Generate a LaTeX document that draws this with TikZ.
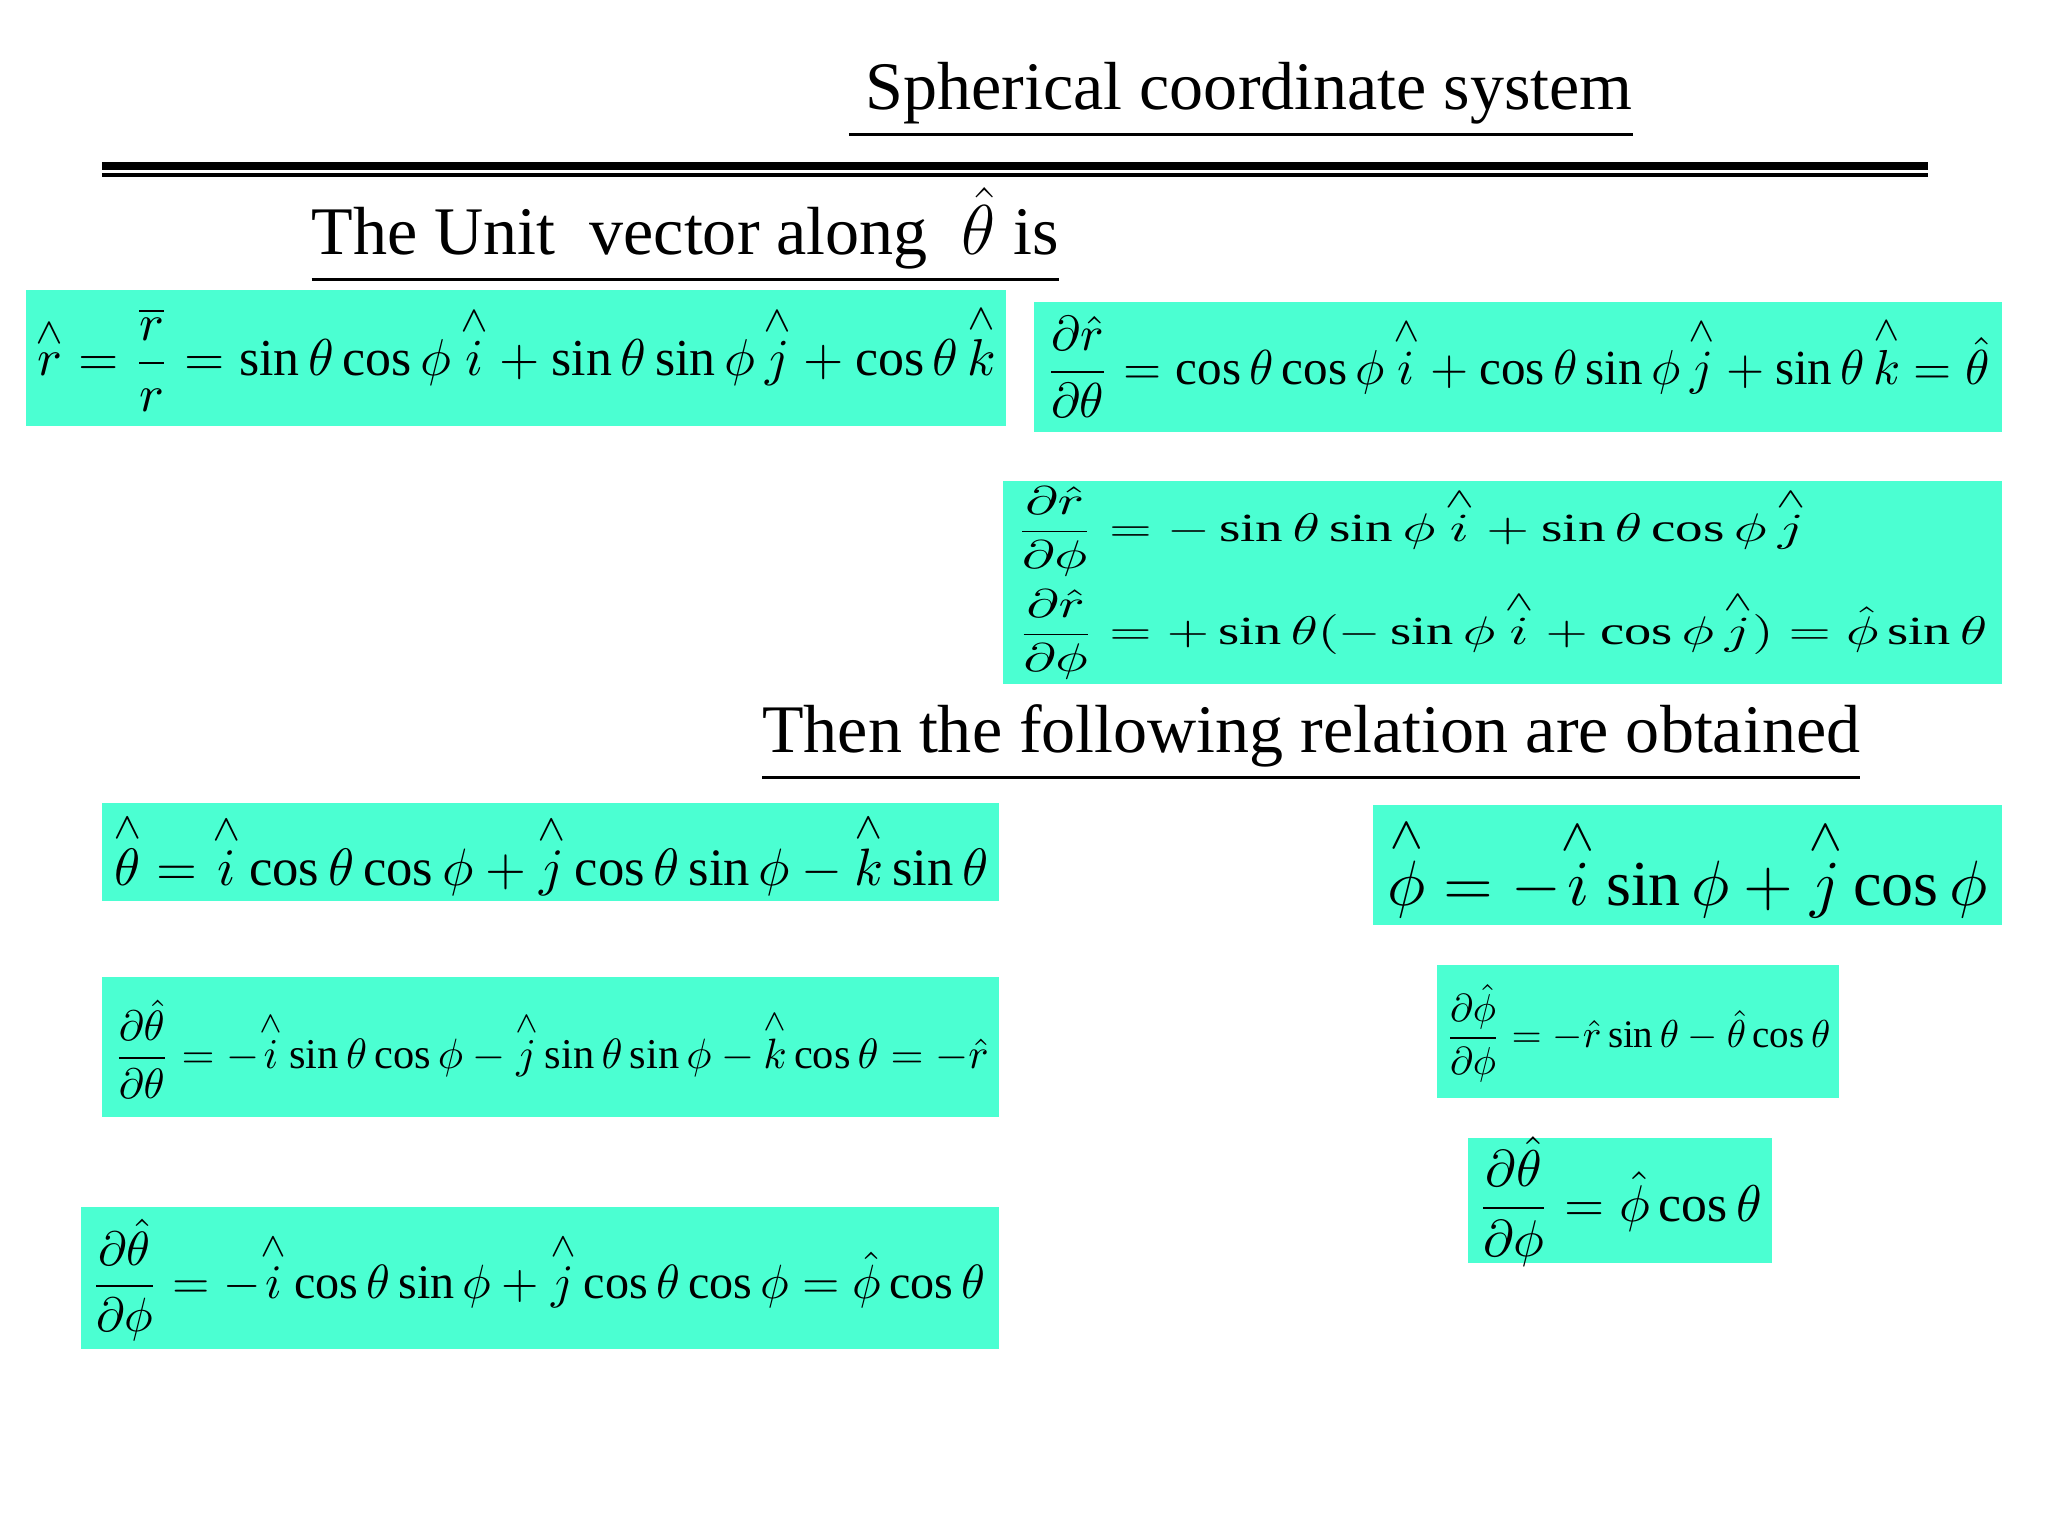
\documentclass[tikz,border=0pt]{standalone}
\usepackage{amsmath}
\usepackage{graphicx}
\usepackage{fontspec}
\setmainfont{Liberation Serif}
\definecolor{bx}{HTML}{4BFFD2}
\newcommand{\wh}[1]{\overset{\wedge}{#1}}
\newcommand{\pd}[2]{\dfrac{\partial #1}{\partial #2}}
\tikzset{eqbox/.style={fill=bx,inner sep=0pt},
 ttl/.style={font=\fontsize{20}{24}\selectfont,inner sep=0pt}}
\begin{document}
\begin{tikzpicture}[x=0.013061cm,y=-0.013061cm]
\useasboundingbox (0,0) rectangle (1568,1176);
\node[ttl,anchor=base] (t1) at (950,84) {\underline{\resizebox{7.84cm}{!}{ Spherical coordinate system}}};
\draw[line width=2.2pt] (78,127) -- (1476,127);
\draw[line width=1pt] (78,134) -- (1476,134);
\node[ttl,anchor=base west] (t2) at (238,195) {\underline{\resizebox{7.47cm}{!}{The Unit\ \ vector along\ \ $\hat{\theta}$ is}}};
\node[ttl,anchor=base west] (t3) at (583,576) {\underline{\resizebox{10.98cm}{!}{Then the following relation are obtained}}};
% boxes
\fill[bx] (20,222) rectangle (770,326);
\fill[bx] (792,231) rectangle (1533,331);
\fill[bx] (768,368) rectangle (1533,524);
\fill[bx] (78,615) rectangle (765,690);
\fill[bx] (1051,616) rectangle (1533,708);
\fill[bx] (78,748) rectangle (765,855);
\fill[bx] (1100,739) rectangle (1408,841);
\fill[bx] (1124,871) rectangle (1357,967);
\fill[bx] (62,924) rectangle (765,1033);
\node (e1) at (395,274) {\resizebox{9.6cm}{!}{$\wh{r}=\dfrac{\overline{r}}{r}=\sin\theta\cos\phi\,\wh{i}+\sin\theta\sin\phi\,\wh{j}+\cos\theta\,\wh{k}$}};
\node (e2) at (1162,281) {\resizebox{9.45cm}{!}{$\pd{\hat r}{\theta}=\cos\theta\cos\phi\,\wh{i}+\cos\theta\sin\phi\,\wh{j}+\sin\theta\,\wh{k}=\hat{\theta}$}};
\node (e3) at (1080,407) {\resizebox*{7.9cm}{0.9cm}{$\pd{\hat r}{\phi}=-\sin\theta\sin\phi\,\wh{i}+\sin\theta\cos\phi\,\wh{j}$}};
\node (e4) at (1150,486) {\resizebox*{9.7cm}{0.9cm}{$\pd{\hat r}{\phi}=+\sin\theta(-\sin\phi\,\wh{i}+\cos\phi\,\wh{j})=\hat{\phi}\sin\theta$}};
\node (e5) at (422,654) {\resizebox{8.75cm}{!}{$\wh{\theta}=\wh{i}\cos\theta\cos\phi+\wh{j}\cos\theta\sin\phi-\wh{k}\sin\theta$}};
\node (e6) at (1292,664) {\resizebox{6.0cm}{!}{$\wh{\phi}=-\wh{i}\sin\phi+\wh{j}\cos\phi$}};
\node (e7) at (422,803) {\resizebox{8.75cm}{!}{$\pd{\hat\theta}{\theta}=-\wh{i}\sin\theta\cos\phi-\wh{j}\sin\theta\sin\phi-\wh{k}\cos\theta=-\hat{r}$}};
\node (e8) at (1254,791) {\resizebox{3.85cm}{!}{$\pd{\hat\phi}{\phi}=-\hat r\sin\theta-\hat\theta\cos\theta$}};
\node (e9) at (1240,920) {\resizebox{2.85cm}{!}{$\pd{\hat\theta}{\phi}=\hat\phi\cos\theta$}};
\node (e10) at (412,980) {\resizebox{8.95cm}{!}{$\pd{\hat\theta}{\phi}=-\wh{i}\cos\theta\sin\phi+\wh{j}\cos\theta\cos\phi=\hat\phi\cos\theta$}};
\end{tikzpicture}
\end{document}
